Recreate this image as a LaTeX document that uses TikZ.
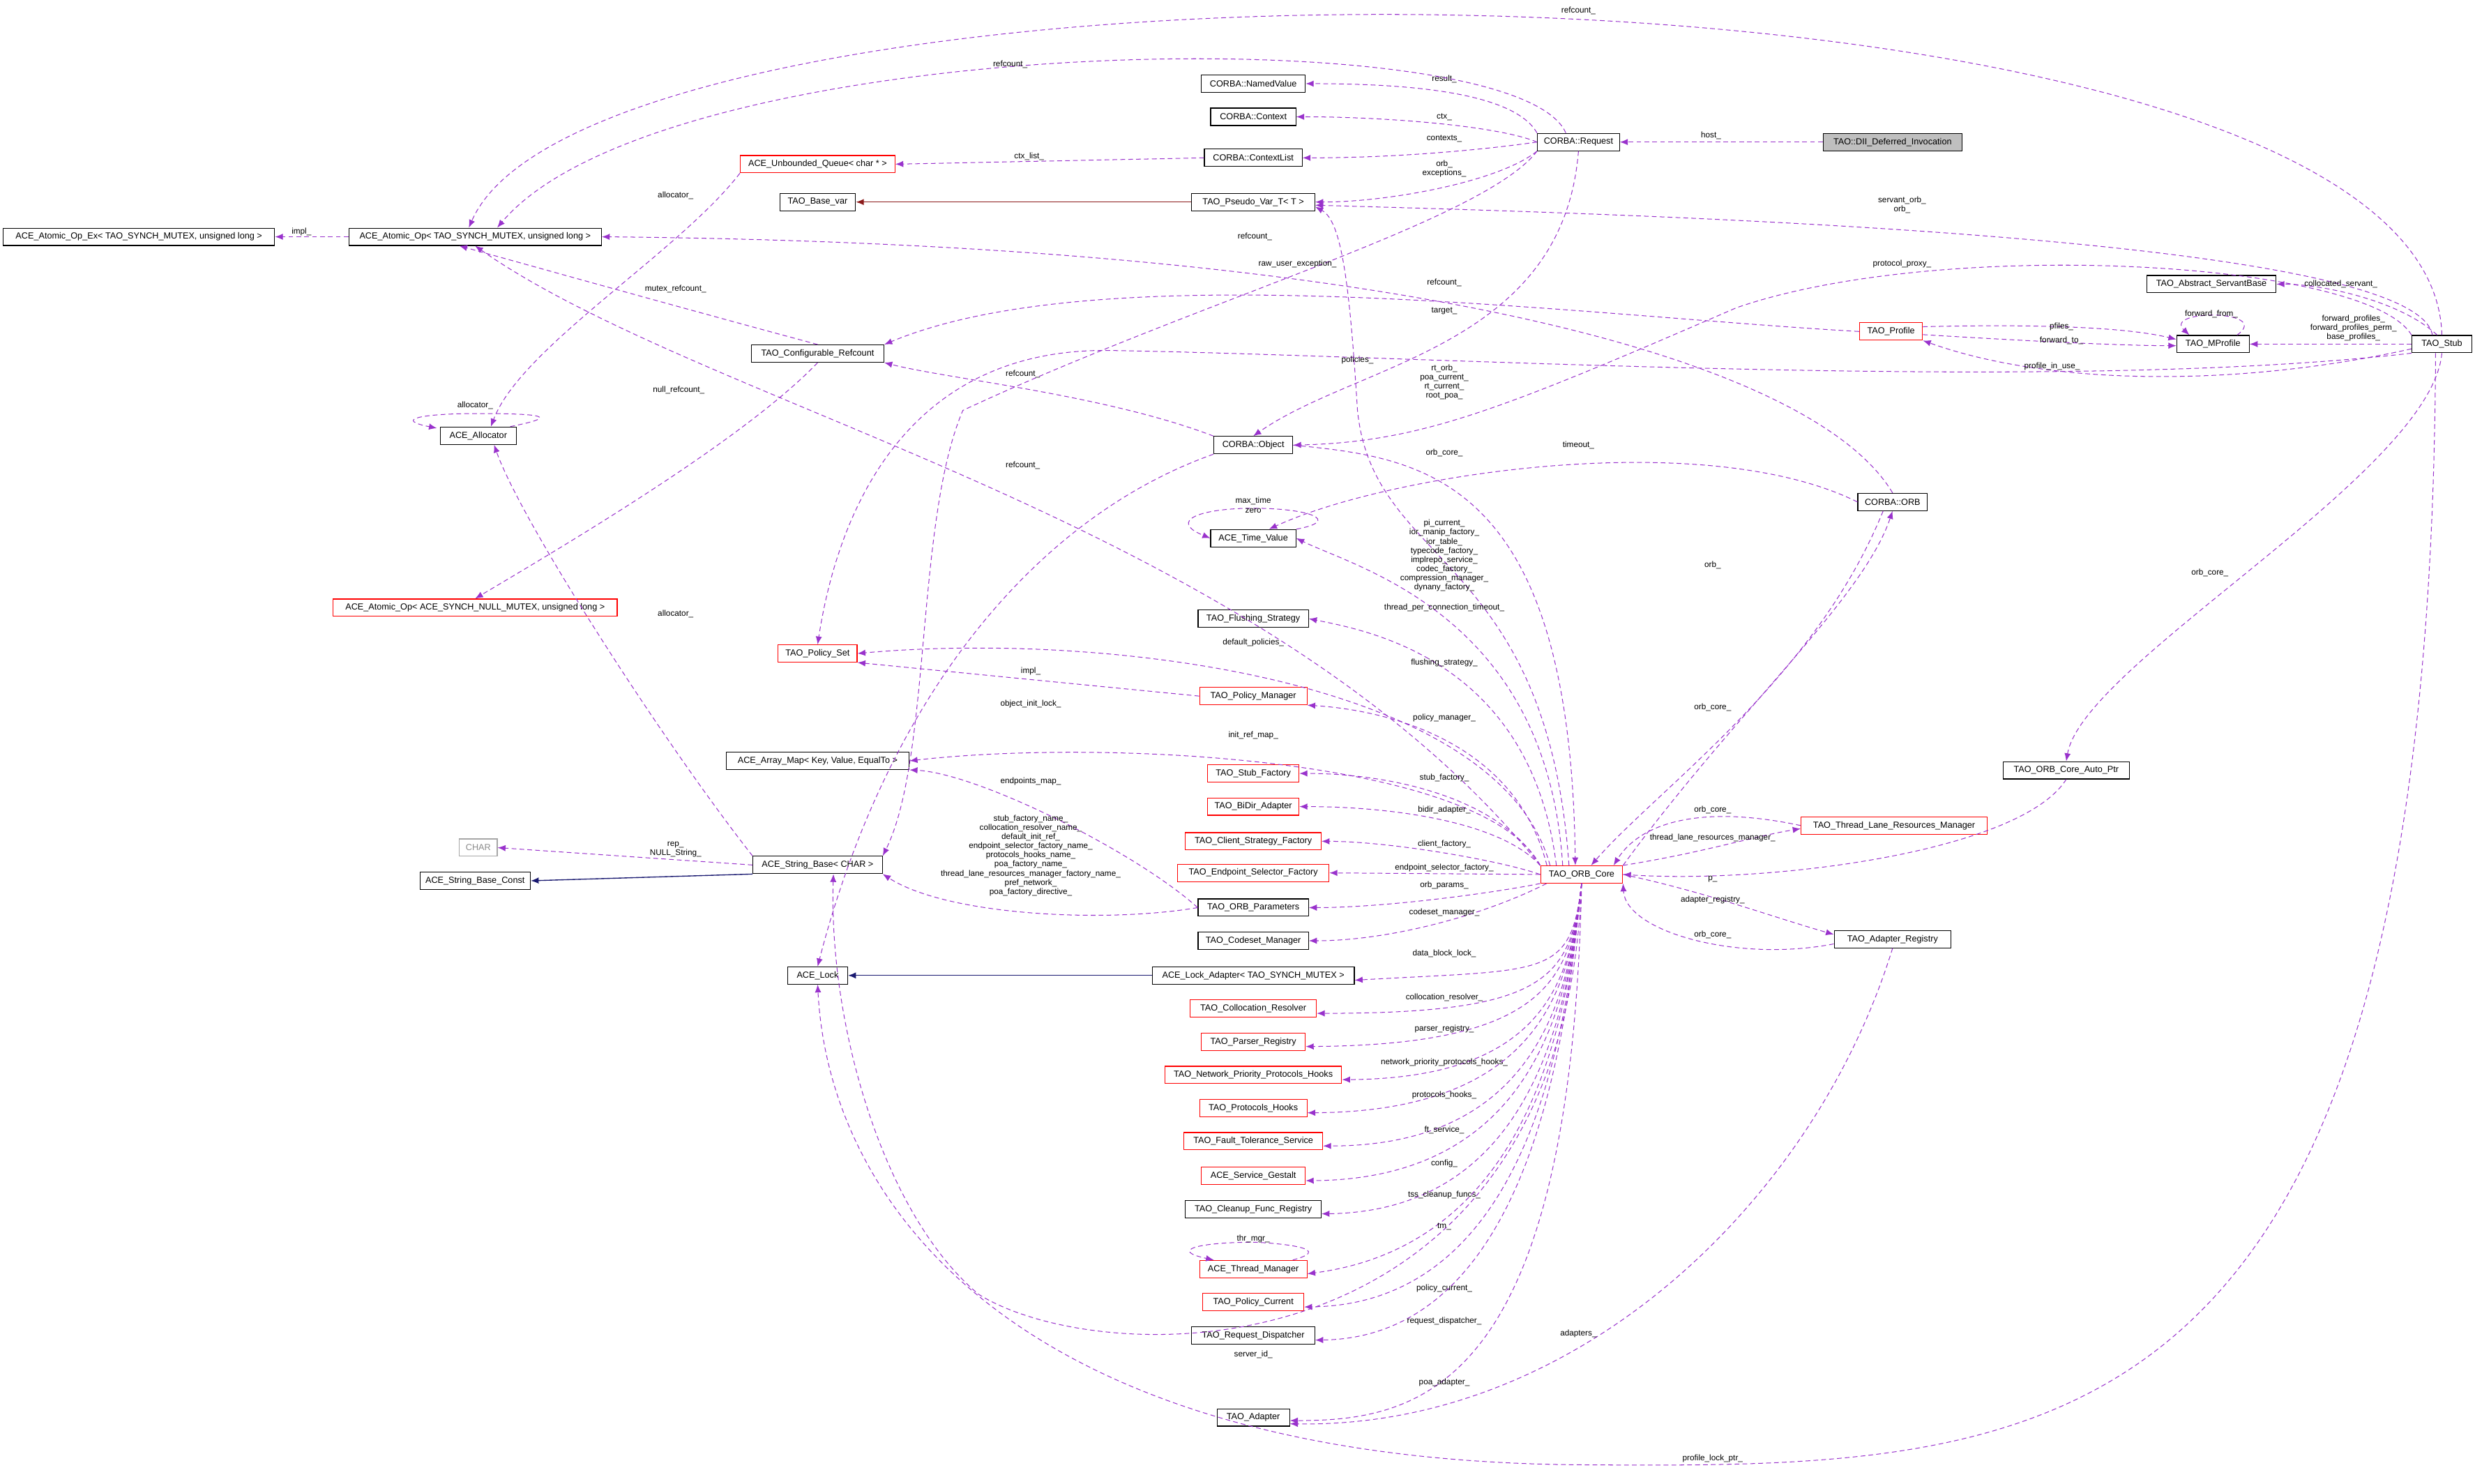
\documentclass[tikz,border=0pt]{standalone}
\usepackage{fontspec}
\setmainfont{Liberation Sans}
\usetikzlibrary{arrows.meta}
\definecolor{mem}{HTML}{9932CC}
\definecolor{inh}{HTML}{191970}
\definecolor{tpl}{HTML}{8B1A1A}
\tikzset{
  box/.style={draw=black,line width=0.5pt,fill=white,minimum height=11pt,inner sep=1pt,font=\fontsize{5.6}{6}\selectfont},
  rbox/.style={box,draw=red},
  mm/.style={draw=mem,dashed,dash pattern=on 3pt off 2pt,line width=0.45pt,-{Latex[length=5pt,width=4pt]},shorten >=0pt},
  inhl/.style={draw=inh,line width=0.6pt,-{Latex[length=5pt,width=4pt]}},
  tpll/.style={draw=tpl,line width=0.6pt,-{Latex[length=5pt,width=4pt]}},
  lb/.style={font=\fontsize{5.2}{5.8}\selectfont,inner sep=0pt,align=center}
}
\begin{document}
\begin{tikzpicture}[x=1pt,y=1pt]
\useasboundingbox[fill=white] (0,0) rectangle (1568,-940);
% nodes
\node[box,fill=black!25,minimum width=88pt] (dii) at (1199,-90) {TAO::DII\_Deferred\_Invocation};
\node[box,minimum width=52pt] (req) at (1000,-90) {CORBA::Request};
\node[box,minimum width=66pt] (nv) at (794,-53) {CORBA::NamedValue};
\node[box,minimum width=54pt] (ctx) at (794,-74) {CORBA::Context};
\node[box,minimum width=62pt] (ctxl) at (794,-100) {CORBA::ContextList};
\node[rbox,minimum width=98pt] (uq) at (518,-104) {ACE\_Unbounded\_Queue< char * >};
\node[box,minimum width=48pt] (bv) at (518,-128) {TAO\_Base\_var};
\node[box,minimum width=78pt] (pv) at (794,-128) {TAO\_Pseudo\_Var\_T< T >};
\node[box,minimum width=160pt] (aop) at (301,-150) {ACE\_Atomic\_Op< TAO\_SYNCH\_MUTEX, unsigned long >};
\node[box,minimum width=172pt] (aopex) at (88,-150) {ACE\_Atomic\_Op\_Ex< TAO\_SYNCH\_MUTEX, unsigned long >};
\node[box,minimum width=82pt] (abs) at (1401,-180) {TAO\_Abstract\_ServantBase};
\node[rbox,minimum width=40pt] (prof) at (1198,-210) {TAO\_Profile};
\node[box,minimum width=46pt] (mp) at (1402,-218) {TAO\_MProfile};
\node[box,minimum width=38pt] (stub) at (1547,-218) {TAO\_Stub};
\node[box,minimum width=84pt] (cr) at (518,-224) {TAO\_Configurable\_Refcount};
\node[box,minimum width=48pt] (alloc) at (303,-276) {ACE\_Allocator};
\node[box,minimum width=50pt] (obj) at (794,-282) {CORBA::Object};
\node[box,minimum width=44pt] (orb) at (1199,-318) {CORBA::ORB};
\node[box,minimum width=54pt] (tv) at (794,-341) {ACE\_Time\_Value};
\node[rbox,minimum width=180pt] (aopn) at (301,-385) {ACE\_Atomic\_Op< ACE\_SYNCH\_NULL\_MUTEX, unsigned long >};
\node[box,minimum width=70pt] (fs) at (794,-392) {TAO\_Flushing\_Strategy};
\node[rbox,minimum width=50pt] (ps) at (518,-414) {TAO\_Policy\_Set};
\node[rbox,minimum width=68pt] (pm) at (794,-441) {TAO\_Policy\_Manager};
\node[box,minimum width=116pt] (am) at (518,-482) {ACE\_Array\_Map< Key, Value, EqualTo >};
\node[rbox,minimum width=58pt] (sf) at (794,-490) {TAO\_Stub\_Factory};
\node[box,minimum width=80pt] (ap) at (1309,-488) {TAO\_ORB\_Core\_Auto\_Ptr};
\node[rbox,minimum width=58pt] (bd) at (794,-511) {TAO\_BiDir\_Adapter};
\node[rbox,minimum width=118pt] (tl) at (1200,-523) {TAO\_Thread\_Lane\_Resources\_Manager};
\node[rbox,minimum width=86pt] (csf) at (794,-533) {TAO\_Client\_Strategy\_Factory};
\node[box,draw=black!35,text=black!45,minimum width=24pt] (chr) at (303,-537) {CHAR};
\node[box,minimum width=82pt] (sb) at (518,-548) {ACE\_String\_Base< CHAR >};
\node[rbox,minimum width=96pt] (esf) at (794,-553) {TAO\_Endpoint\_Selector\_Factory};
\node[rbox,minimum width=52pt] (core) at (1002,-554) {TAO\_ORB\_Core};
\node[box,minimum width=70pt] (sbc) at (301,-558) {ACE\_String\_Base\_Const};
\node[box,minimum width=70pt] (par) at (794,-575) {TAO\_ORB\_Parameters};
\node[box,minimum width=74pt] (ar) at (1199,-595) {TAO\_Adapter\_Registry};
\node[box,minimum width=70pt] (csm) at (794,-596) {TAO\_Codeset\_Manager};
\node[box,minimum width=38pt] (lock) at (518,-618) {ACE\_Lock};
\node[box,minimum width=128pt] (la) at (794,-618) {ACE\_Lock\_Adapter< TAO\_SYNCH\_MUTEX >};
\node[rbox,minimum width=80pt] (col) at (794,-639) {TAO\_Collocation\_Resolver};
\node[rbox,minimum width=66pt] (preg) at (794,-660) {TAO\_Parser\_Registry};
\node[rbox,minimum width=112pt] (npph) at (794,-681) {TAO\_Network\_Priority\_Protocols\_Hooks};
\node[rbox,minimum width=68pt] (ph) at (794,-702) {TAO\_Protocols\_Hooks};
\node[rbox,minimum width=88pt] (ft) at (794,-723) {TAO\_Fault\_Tolerance\_Service};
\node[rbox,minimum width=66pt] (sg) at (794,-745) {ACE\_Service\_Gestalt};
\node[box,minimum width=86pt] (cfr) at (794,-766) {TAO\_Cleanup\_Func\_Registry};
\node[rbox,minimum width=68pt] (tm) at (794,-804) {ACE\_Thread\_Manager};
\node[rbox,minimum width=64pt] (pc) at (794,-825) {TAO\_Policy\_Current};
\node[box,minimum width=78pt] (rd) at (794,-846) {TAO\_Request\_Dispatcher};
\node[box,minimum width=46pt] (ad) at (794,-898) {TAO\_Adapter};

% top region
\draw[mm] (dii.west) -- (req.east);
\node[lb] (l1) at (1084,-86) {host\_};
\draw[mm] (req.north west) .. controls (960,-60) and (900,-53) .. (nv.east);
\node[lb] (l2) at (915,-50) {result\_};
\draw[mm] (req.west) .. controls (950,-80) and (880,-74) .. (ctx.east);
\node[lb] (l3) at (915,-74) {ctx\_};
\draw[mm] (req.west) .. controls (960,-92) and (900,-100) .. (ctxl.east);
\node[lb] (l4) at (915,-88) {contexts\_};
\draw[mm] (ctxl.west) -- (uq.east);
\node[lb] (l5) at (652,-99) {ctx\_list\_};
\draw[tpll] (pv.west) -- (bv.east);
\draw[mm] (req.south west) .. controls (950,-115) and (880,-128) .. (pv.east);
\node[lb] (l6) at (915,-107) {orb\_\\exceptions\_};
\draw[mm] ([xshift=-8pt]req.north) .. controls (960,-10) and (420,-20) .. ([xshift=14pt]aop.north);
\node[lb] (l7) at (640,-41) {refcount\_};
\draw[mm] (stub.north) .. controls (1540,45) and (380,45) .. ([xshift=-4pt]aop.north);
\node[lb] (l8) at (1000,-7) {refcount\_};
\draw[mm] (aop.west) -- (aopex.east);
\node[lb] (l9) at (191,-147) {impl\_};
\draw[mm] ([xshift=-6pt]stub.north) .. controls (1530,-150) and (1050,-136) .. ([yshift=-2pt]pv.east);
\node[lb] (l10) at (1205,-130) {servant\_orb\_\\orb\_};
\draw[mm] ([xshift=-3pt]stub.north) .. controls (1520,-190) and (1470,-180) .. (abs.east);
\node[lb] (l11) at (1483,-180) {collocated\_servant\_};
\draw[mm] (stub.west) -- (mp.east);
\node[lb] (l12) at (1491,-208) {forward\_profiles\_\\forward\_profiles\_perm\_\\base\_profiles\_};
\draw[mm] ([xshift=-8pt]mp.north east) .. controls (1440,-196) and (1370,-196) .. ([xshift=-15pt]mp.north);
\node[lb] (l13) at (1401,-199) {forward\_from\_};
\draw[mm] ([yshift=3pt]prof.east) .. controls (1300,-205) and (1350,-208) .. ([yshift=3pt]mp.west);
\node[lb] (l14) at (1306,-207) {pfiles\_};
\draw[mm] ([yshift=-2pt]prof.east) .. controls (1300,-217) and (1350,-219) .. ([yshift=-1pt]mp.west);
\node[lb] (l15) at (1306,-216) {forward\_to\_};
\draw[mm] ([yshift=-3pt]stub.west) .. controls (1420,-245) and (1300,-245) .. (prof.south east);
\node[lb] (l16) at (1300,-232) {profile\_in\_use\_};
\draw[mm] (stub.south west) .. controls (1300,-250) and (900,-225) .. (700,-222) .. controls (570,-222) and (530,-330) .. (ps.north);
\node[lb] (l17) at (860,-228) {policies\_};
\draw[mm] (prof.west) .. controls (1000,-200) and (700,-160) .. (cr.north east);
\node[lb] (l18) at (915,-179) {refcount\_};
\draw[mm] (orb.north) .. controls (1150,-230) and (900,-155) .. (aop.east);
\node[lb] (l19) at (795,-150) {refcount\_};
\draw[mm] (stub.north west) .. controls (1500,-165) and (1230,-150) .. (1100,-195) .. controls (950,-260) and (900,-280) .. (obj.east);
\node[lb] (l20) at (1205,-167) {protocol\_proxy\_};
\draw[mm] (cr.north) .. controls (450,-200) and (360,-175) .. ([xshift=-10pt]aop.south);
\node[lb] (l21) at (428,-183) {mutex\_refcount\_};
\draw[mm] (cr.south) .. controls (470,-280) and (350,-350) .. (aopn.north);
\node[lb] (l22) at (430,-247) {null\_refcount\_};
\draw[mm] (obj.north west) .. controls (700,-250) and (600,-240) .. (cr.south east);
\node[lb] (l23) at (648,-237) {refcount\_};
\draw[mm] ([xshift=-4pt]alloc.north east) .. controls (355,-264) and (345,-262) .. (303,-262) .. controls (265,-262) and (250,-266) .. ([xshift=-2pt,yshift=-1pt]alloc.north west);
\node[lb] (l24) at (301,-257) {allocator\_};
\draw[mm] (uq.south west) .. controls (430,-160) and (330,-220) .. ([xshift=8pt]alloc.north);
\node[lb] (l25) at (428,-124) {allocator\_};
\draw[mm] (sb.north west) .. controls (420,-470) and (330,-330) .. ([xshift=10pt]alloc.south);
\node[lb] (l26) at (428,-389) {allocator\_};
\draw[mm] (req.south) .. controls (990,-220) and (860,-230) .. (obj.north);
\node[lb] (l27) at (915,-197) {target\_};
\draw[mm] (req.south west) .. controls (940,-140) and (760,-190) .. (610,-260) .. controls (580,-330) and (590,-480) .. (sb.north east);
\node[lb] (l28) at (822,-167) {raw\_user\_exception\_};
\draw[mm] ([xshift=-8pt]core.north) .. controls (980,-350) and (870,-360) .. (860,-260) .. controls (855,-180) and (850,-140) .. ([yshift=-3pt]pv.east);
\node[lb] (l29) at (915,-242) {rt\_orb\_\\poa\_current\_\\rt\_current\_\\root\_poa\_};
\draw[mm] (obj.east) .. controls (900,-290) and (995,-300) .. ([xshift=-4pt]core.north);
\node[lb] (l30) at (915,-287) {orb\_core\_};
\draw[mm] (orb.west) .. controls (1080,-270) and (880,-300) .. ([xshift=10pt]tv.north);
\node[lb] (l31) at (1000,-282) {timeout\_};
\draw[mm] (core.north east) .. controls (1100,-450) and (1180,-380) .. (orb.south);
\node[lb] (l32) at (1085,-358) {orb\_};
\draw[mm] ([xshift=-6pt]orb.south) .. controls (1150,-430) and (1050,-500) .. ([xshift=6pt]core.north);
\node[lb] (l33) at (1085,-448) {orb\_core\_};
\draw[mm] (core.north west) .. controls (800,-330) and (450,-260) .. (aop.south);
\node[lb] (l34) at (648,-295) {refcount\_};
\draw[mm] (tv.north east) .. controls (850,-330) and (830,-322) .. (794,-322) .. controls (760,-322) and (740,-330) .. (tv.west);
\node[lb] (l35) at (794,-320) {max\_time\\zero};
\draw[mm] ([xshift=-12pt]core.north) .. controls (980,-390) and (860,-360) .. (tv.east);
\node[lb] (l36) at (915,-352) {pi\_current\_\\ior\_manip\_factory\_\\ior\_table\_\\typecode\_factory\_\\implrepo\_service\_\\codec\_factory\_\\compression\_manager\_\\dynany\_factory\_};
\node[lb] (l37) at (915,-385) {thread\_per\_connection\_timeout\_};
\draw[mm] ([xshift=-16pt]core.north) .. controls (970,-420) and (870,-400) .. (fs.east);
\node[lb] (l38) at (915,-420) {flushing\_strategy\_};
\draw[mm] ([xshift=-20pt]core.north) .. controls (950,-430) and (700,-400) .. (ps.east);
\node[lb] (l39) at (794,-407) {default\_policies\_};
\draw[mm] (pm.west) -- (ps.south east);
\node[lb] (l40) at (653,-425) {impl\_};
\draw[mm] ([xshift=-22pt]core.north) .. controls (960,-470) and (880,-450) .. (pm.south east);
\node[lb] (l41) at (915,-455) {policy\_manager\_};
\draw[mm] (core.north west) .. controls (940,-480) and (700,-468) .. (am.east);
\node[lb] (l42) at (794,-466) {init\_ref\_map\_};
\draw[mm] (obj.south west) .. controls (650,-330) and (560,-450) .. (lock.north);
\node[lb] (l43) at (653,-446) {object\_init\_lock\_};
\draw[mm] (par.west) .. controls (720,-540) and (620,-490) .. (am.south east);
\node[lb] (l44) at (653,-495) {endpoints\_map\_};
\draw[mm] (par.west) .. controls (700,-585) and (600,-580) .. (sb.south east);
\node[lb] (l45) at (653,-542) {stub\_factory\_name\_\\collocation\_resolver\_name\_\\default\_init\_ref\_\\endpoint\_selector\_factory\_name\_\\protocols\_hooks\_name\_\\poa\_factory\_name\_\\thread\_lane\_resources\_manager\_factory\_name\_\\pref\_network\_\\poa\_factory\_directive\_};
\draw[mm] (sb.west) -- (chr.east);
\node[lb] (l46) at (428,-538) {rep\_\\NULL\_String\_};
\draw[inhl] (sb.south west) -- (sbc.east);
\draw[inhl] (la.west) -- (lock.east);

% ORB_Core upper fan
\draw[mm] (core.north west) .. controls (950,-505) and (880,-490) .. (sf.east);
\node[lb] (c1) at (915,-493) {stub\_factory\_};
\draw[mm] (core.north west) .. controls (950,-520) and (880,-511) .. (bd.east);
\node[lb] (c2) at (915,-513) {bidir\_adapter\_};
\draw[mm] (core.west) .. controls (950,-545) and (880,-533) .. (csf.east);
\node[lb] (c3) at (915,-535) {client\_factory\_};
\draw[mm] (core.west) -- (esf.east);
\node[lb] (c4) at (915,-550) {endpoint\_selector\_factory\_};
\draw[mm] (core.south west) .. controls (950,-565) and (880,-575) .. (par.east);
\node[lb] (c5) at (915,-561) {orb\_params\_};
\draw[mm] ([xshift=4pt]core.south west) .. controls (940,-580) and (880,-596) .. (csm.east);
\node[lb] (c6) at (915,-578) {codeset\_manager\_};
% lower fan
\foreach \t/\lab/\ly in {la/data\_block\_lock\_/604, col/collocation\_resolver\_/632, preg/parser\_registry\_/652, npph/network\_priority\_protocols\_hooks\_/673, ph/protocols\_hooks\_/694, ft/ft\_service\_/716, sg/config\_/737, cfr/tss\_cleanup\_funcs\_/757, tm/tm\_/777, pc/policy\_current\_/816, rd/request\_dispatcher\_/837}{
  \draw[mm] (core.south) .. controls (995,-620) and (980,-\ly-10) .. ([yshift=-3pt]\t.east);
  \node[lb] at (915,-\ly) {\lab};
}
\draw[mm] ([xshift=25pt]tm.north) .. controls (850,-790) and (800,-787) .. (794,-787) .. controls (760,-787) and (740,-792) .. ([xshift=-25pt]tm.north);
\node[lb] (c7) at (794,-785) {thr\_mgr\_};
\draw[mm] (core.south) .. controls (990,-875) and (700,-870) .. (620,-820) .. controls (560,-770) and (525,-650) .. ([xshift=10pt]sb.south);
\node[lb] (c8) at (794,-858) {server\_id\_};
\draw[mm] (core.south) .. controls (995,-880) and (900,-900) .. ([yshift=-2pt]ad.east);
\node[lb] (c9) at (915,-876) {poa\_adapter\_};

% right side
\draw[mm] ([yshift=-3pt]ar.west) .. controls (1100,-610) and (1030,-590) .. (core.south east);
\node[lb] (r1) at (1085,-592) {orb\_core\_};
\draw[mm] (core.east) .. controls (1080,-565) and (1120,-580) .. ([yshift=3pt]ar.west);
\node[lb] (r2) at (1085,-570) {adapter\_registry\_};
\draw[mm] (tl.west) .. controls (1080,-510) and (1040,-520) .. ([xshift=-6pt]core.north east);
\node[lb] (r3) at (1085,-513) {orb\_core\_};
\draw[mm] (core.north east) .. controls (1080,-540) and (1110,-530) .. ([yshift=-2pt]tl.west);
\node[lb] (r4) at (1085,-531) {thread\_lane\_resources\_manager\_};
\draw[mm] (ap.south) .. controls (1280,-540) and (1120,-560) .. (core.east);
\node[lb] (r5) at (1085,-557) {p\_};
\draw[mm] (stub.south) .. controls (1540,-300) and (1320,-420) .. (ap.north);
\node[lb] (r6) at (1400,-363) {orb\_core\_};
\draw[mm] (ar.south) .. controls (1150,-760) and (1000,-905) .. ([yshift=-4pt]ad.east);
\node[lb] (r7) at (1000,-845) {adapters\_};
\draw[mm] ([xshift=-4pt]stub.south) .. controls (1540,-930) and (1300,-930) .. (1000,-928) .. controls (640,-925) and (525,-760) .. (lock.south);
\node[lb] (r8) at (1085,-924) {profile\_lock\_ptr\_};
\end{tikzpicture}
\end{document}
